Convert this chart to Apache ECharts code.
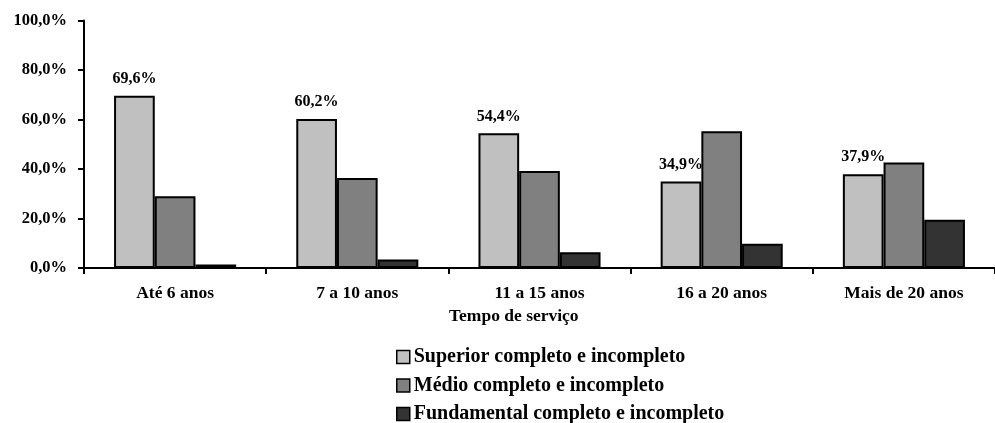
<!DOCTYPE html>
<html>
<head>
<meta charset="utf-8">
<script src="https://cdn.jsdelivr.net/npm/echarts@6/dist/echarts.min.js"></script>
<style>
  html, body { margin: 0; padding: 0; background: #fff; }
  #chart { width: 995px; height: 423px; }
</style>
</head>
<body>
<div id="chart"></div>
<script>
// Escolaridade por tempo de serviço (%)
var categories = ['Até 6 anos', '7 a 10 anos', '11 a 15 anos', '16 a 20 anos', 'Mais de 20 anos'];
var seriesNames = ['Superior completo e incompleto', 'Médio completo e incompleto', 'Fundamental completo e incompleto'];
var superior = [69.6, 60.2, 54.4, 34.9, 37.9];
var medio = [29.0, 36.4, 39.2, 55.3, 42.6];
var fundamental = [1.4, 3.4, 6.4, 9.8, 19.5];
var yTicks = [0, 20, 40, 60, 80, 100];

var FONT = '"Liberation Serif", "Times New Roman", serif';
var colors = ['#c0c0c0', '#808080', '#333333'];

function pct(v) {
  return v.toFixed(1).replace('.', ',') + '%';
}

var chart = echarts.init(document.getElementById('chart'), null, { renderer: 'canvas' });

function barSeries(name, data, color, withLabel) {
  return {
    name: name,
    type: 'bar',
    data: data,
    barGap: '0%',
    barCategoryGap: '33%',
    itemStyle: { color: color, borderColor: '#000', borderWidth: 2 },
    label: {
      show: withLabel,
      position: 'top',
      distance: 9,
      formatter: function (p) { return pct(p.value); },
      fontFamily: FONT,
      fontWeight: 'bold',
      fontSize: 16,
      color: '#000'
    },
    emphasis: { disabled: true },
    animation: false
  };
}

chart.setOption({
  animation: false,
  title: {
    text: 'Tempo de serviço',
    left: 449,
    top: 307,
    padding: 0,
    textStyle: { fontFamily: FONT, fontWeight: 'bold', fontSize: 17.5, color: '#000' }
  },
  legend: {
    orient: 'vertical',
    left: 396,
    top: 347,
    height: 120,
    padding: 0,
    itemWidth: 13,
    itemHeight: 13,
    itemGap: 8.5,
    icon: 'rect',
    selectedMode: false,
    data: seriesNames,
    itemStyle: { borderColor: '#000', borderWidth: 1.5 },
    textStyle: { fontFamily: FONT, fontWeight: 'bold', fontSize: 20, color: '#000', padding: [0, 0, 0, -1], lineHeight: 20 }
  },
  grid: { left: 84, right: -9, top: 20.5, bottom: 155, containLabel: false },
  xAxis: {
    type: 'category',
    data: categories,
    boundaryGap: true,
    axisLine: { lineStyle: { color: '#000', width: 2 } },
    axisTick: { show: true, length: 6, inside: false, alignWithLabel: false, lineStyle: { color: '#000', width: 2 } },
    axisLabel: { margin: 16, fontFamily: FONT, fontWeight: 'bold', fontSize: 17.5, color: '#000' },
    splitLine: { show: false }
  },
  yAxis: {
    type: 'value',
    min: yTicks[0],
    max: yTicks[yTicks.length - 1],
    interval: yTicks[1] - yTicks[0],
    axisLine: { show: true, lineStyle: { color: '#000', width: 2 } },
    axisTick: { show: true, length: 6, lineStyle: { color: '#000', width: 2 } },
    axisLabel: { margin: 17, formatter: pct, fontFamily: FONT, fontWeight: 'bold', fontSize: 16.5, color: '#000' },
    splitLine: { show: false }
  },
  series: [
    barSeries(seriesNames[0], superior, colors[0], true),
    barSeries(seriesNames[1], medio, colors[1], false),
    barSeries(seriesNames[2], fundamental, colors[2], false)
  ]
});
</script>
</body>
</html>
